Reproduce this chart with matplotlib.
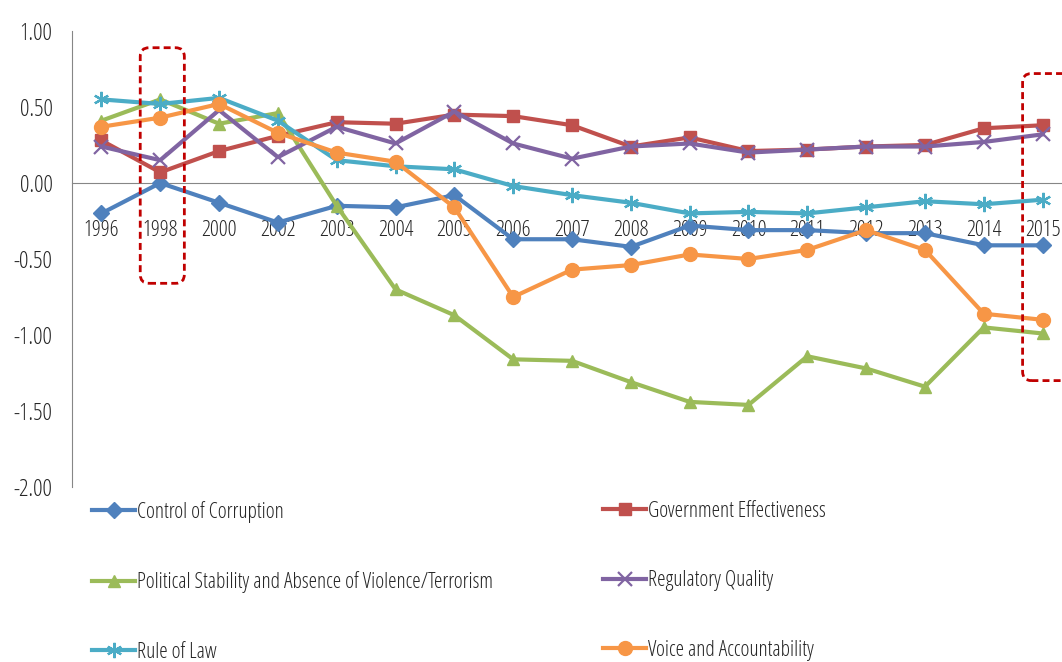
"""Governance indicators 1996-2015, Excel-style line chart with legend below."""
import numpy as np
import matplotlib; matplotlib.use("Agg")
import matplotlib.pyplot as plt, matplotlib.font_manager as fm
from matplotlib.patches import FancyBboxPatch

# narrow face if the box has one (source chart uses a squeezed font), else DejaVu Sans
_cond = [f for f in fm.fontManager.ttflist if f.name == "Open Sans" and f.stretch == "condensed"]
if _cond:
    plt.rcParams["font.family"] = ["Open Sans", "DejaVu Sans"]
    plt.rcParams["font.stretch"] = "condensed"
    SCALE = 1.0
else:
    plt.rcParams["font.family"] = ["DejaVu Sans"]
    SCALE = 0.75

years = ["1996", "1998", "2000", "2002", "2003", "2004", "2005", "2006", "2007",
         "2008", "2009", "2010", "2011", "2012", "2013", "2014", "2015"]
corruption = [-0.20, 0.00, -0.13, -0.26, -0.15, -0.16, -0.08, -0.37, -0.37,
              -0.42, -0.28, -0.31, -0.31, -0.33, -0.33, -0.41, -0.41]
gov_eff = [0.28, 0.07, 0.21, 0.31, 0.40, 0.39, 0.45, 0.44, 0.38,
           0.24, 0.30, 0.21, 0.22, 0.24, 0.25, 0.36, 0.38]
pol_stab = [0.41, 0.55, 0.39, 0.46, -0.15, -0.70, -0.87, -1.16, -1.17,
            -1.31, -1.44, -1.46, -1.14, -1.22, -1.34, -0.95, -0.99]
reg_quality = [0.24, 0.15, 0.48, 0.17, 0.37, 0.26, 0.47, 0.26, 0.16,
               0.24, 0.26, 0.20, 0.22, 0.24, 0.24, 0.27, 0.32]
rule_law = [0.55, 0.52, 0.56, 0.41, 0.15, 0.11, 0.09, -0.02, -0.08,
            -0.13, -0.20, -0.19, -0.20, -0.16, -0.12, -0.14, -0.11]
voice = [0.37, 0.43, 0.52, 0.33, 0.20, 0.14, -0.16, -0.75, -0.57,
         -0.54, -0.47, -0.50, -0.44, -0.31, -0.44, -0.86, -0.90]

series = [
    ("Control of Corruption", corruption, "#4F81BD", "D", 8),
    ("Government Effectiveness", gov_eff, "#C0504D", "s", 9),
    ("Political Stability and Absence of Violence/Terrorism", pol_stab, "#9BBB59", "^", 9),
    ("Regulatory Quality", reg_quality, "#8064A2", "x", 10),
    ("Rule of Law", rule_law, "#4BACC6", (6, 2, 0), 11),
    ("Voice and Accountability", voice, "#F79646", "o", 10),
]
TXT = "#262626"
AXC = "#868686"

fig = plt.figure(figsize=(10.62, 6.62), dpi=100)
# axes runs past the right edge on purpose: the source image is cropped there
ax = fig.add_axes([72/1062, 175/662, 1000/1062, 456/662])
x = np.arange(len(years))
handles = []
for name, vals, col, mk, ms in series:
    filled = mk not in ("x", (6, 2, 0))
    h, = ax.plot(x, vals, color=col, lw=3, marker=mk, ms=ms, label=name,
                 mfc=col if filled else "none", mec=col, mew=1.6 if not filled else 1,
                 solid_joinstyle="round", clip_on=False)
    handles.append(h)

ax.set_xlim(-0.5, len(years) - 0.5)
ax.set_ylim(-2, 1)
ax.set_yticks(np.arange(-2, 1.01, 0.5))
ax.set_yticklabels([f"{v:.2f}" for v in np.arange(-2, 1.01, 0.5)])
ax.set_xticks(x)
ax.set_xticklabels(years)
for s in ["top", "right"]:
    ax.spines[s].set_visible(False)
ax.spines["bottom"].set_position(("data", 0))
ax.spines["bottom"].set_color(AXC)
ax.spines["left"].set_color(AXC)
ax.spines["bottom"].set_zorder(0.5)
ax.tick_params(axis="x", length=0, pad=27, labelsize=16*SCALE, colors=TXT)
ax.tick_params(axis="y", length=0, pad=14, labelsize=17*SCALE, colors=TXT)

# dashed highlight boxes around 1998 and 2015
for x0, x1, y0, y1 in [(0.66, 1.41, -0.66, 0.89), (15.66, 16.6, -1.30, 0.72)]:
    ax.add_patch(FancyBboxPatch((x0, y0), x1 - x0, y1 - y0,
                                boxstyle="round,pad=0,rounding_size=0.15",
                                mutation_aspect=0.39, fill=False, ec="#C00000",
                                lw=2, ls=(0, (2.5, 1.5)), clip_on=False, zorder=5))

leg_kw = dict(frameon=False, fontsize=15.5*SCALE, handlelength=2.0/SCALE, handletextpad=0.1,
              labelspacing=2.25/SCALE, borderpad=0, borderaxespad=0, labelcolor=TXT)
l1 = fig.legend(handles[0::2], [h.get_label() for h in handles[0::2]],
                loc="upper left", bbox_to_anchor=(92/1062, 1 - 501/662), **leg_kw)
l2 = fig.legend(handles[1::2], [h.get_label() for h in handles[1::2]],
                loc="upper left", bbox_to_anchor=(603/1062, 1 - 501/662), **leg_kw)

plt.savefig("out.png", dpi=100, facecolor="white")
print("saved out.png")
